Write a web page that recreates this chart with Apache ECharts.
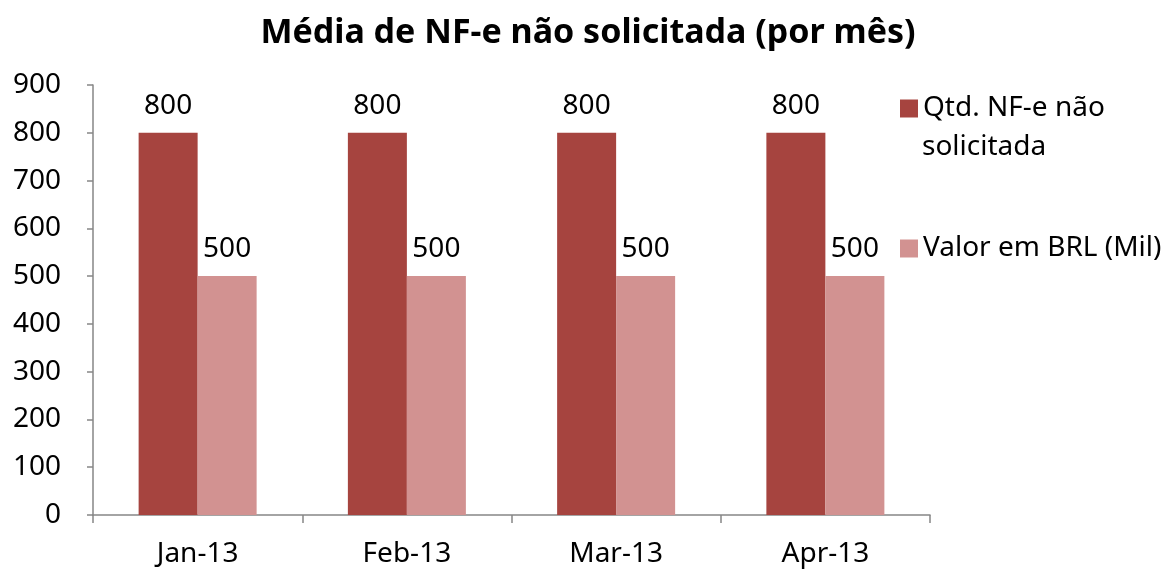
<!DOCTYPE html>
<html>
<head>
<meta charset="utf-8">
<script src="https://cdn.jsdelivr.net/npm/echarts@6/dist/echarts.min.js"></script>
<style>
  html, body { margin: 0; padding: 0; background: #ffffff; }
  #chart { width: 1172px; height: 569px; }
</style>
</head>
<body>
<div id="chart"></div>
<script>
// dados do gráfico
var categorias = ['Jan-13', 'Feb-13', 'Mar-13', 'Apr-13'];
var qtdNaoSolicitada = [800, 800, 800, 800];
var valorBRL = [500, 500, 500, 500];
var nomesSeries = ['Qtd. NF-e não solicitada', 'Valor em BRL (Mil)'];
var ticksY = [0, 100, 200, 300, 400, 500, 600, 700, 800, 900];

var fonte = '"Noto Sans", "Open Sans", sans-serif';

var chart = echarts.init(document.getElementById('chart'));
chart.setOption({
    animation: false,
    title: {
        text: 'Média de NF-e não solicitada (por mês)',
        left: 583,
        textAlign: 'center',
        top: 11,
        textStyle: { fontFamily: fonte, fontSize: 34, fontWeight: 'bold', color: '#000' }
    },
    // legenda à direita (a segunda linha do primeiro nome vai num texto à parte)
    legend: {
        orient: 'vertical',
        left: 895,
        top: 83,
        itemWidth: 18,
        itemHeight: 18,
        itemGap: 99,
        icon: 'rect',
        data: nomesSeries,
        formatter: function (nome) {
            return nome === nomesSeries[0] ? 'Qtd. NF-e não' : nome;
        },
        textStyle: { fontFamily: fonte, fontSize: 28, color: '#000', lineHeight: 41 }
    },
    graphic: [{
        type: 'text',
        left: 922,
        top: 133,
        style: { text: 'solicitada', font: '28px "Noto Sans", sans-serif', fill: '#000' }
    }],
    grid: {
        left: 93,
        right: 242,
        top: 85,
        bottom: 54
    },
    xAxis: {
        type: 'category',
        data: categorias,
        axisLine: { lineStyle: { color: '#868686', width: 1.5 } },
        axisTick: { show: true, length: 8, lineStyle: { color: '#868686', width: 1.5 } },
        axisLabel: { fontFamily: fonte, fontSize: 28, color: '#000', margin: 25 }
    },
    yAxis: {
        type: 'value',
        min: ticksY[0],
        max: ticksY[ticksY.length - 1],
        interval: 100,
        splitLine: { show: false },
        axisLine: { show: true, lineStyle: { color: '#868686', width: 1.5 } },
        axisTick: { show: true, length: 6, lineStyle: { color: '#868686', width: 1.5 } },
        axisLabel: { fontFamily: fonte, fontSize: 28, color: '#000', margin: 32 }
    },
    series: [
        {
            name: nomesSeries[0],
            type: 'bar',
            data: qtdNaoSolicitada,
            barWidth: 59,
            barGap: '0%',
            itemStyle: { color: '#A6443F' },
            label: { show: true, position: 'top', distance: 13, fontFamily: fonte, fontSize: 28, color: '#000' }
        },
        {
            name: nomesSeries[1],
            type: 'bar',
            data: valorBRL,
            barWidth: 59,
            barGap: '0%',
            itemStyle: { color: '#D29291' },
            label: { show: true, position: 'top', distance: 13, fontFamily: fonte, fontSize: 28, color: '#000' }
        }
    ]
});
</script>
</body>
</html>
